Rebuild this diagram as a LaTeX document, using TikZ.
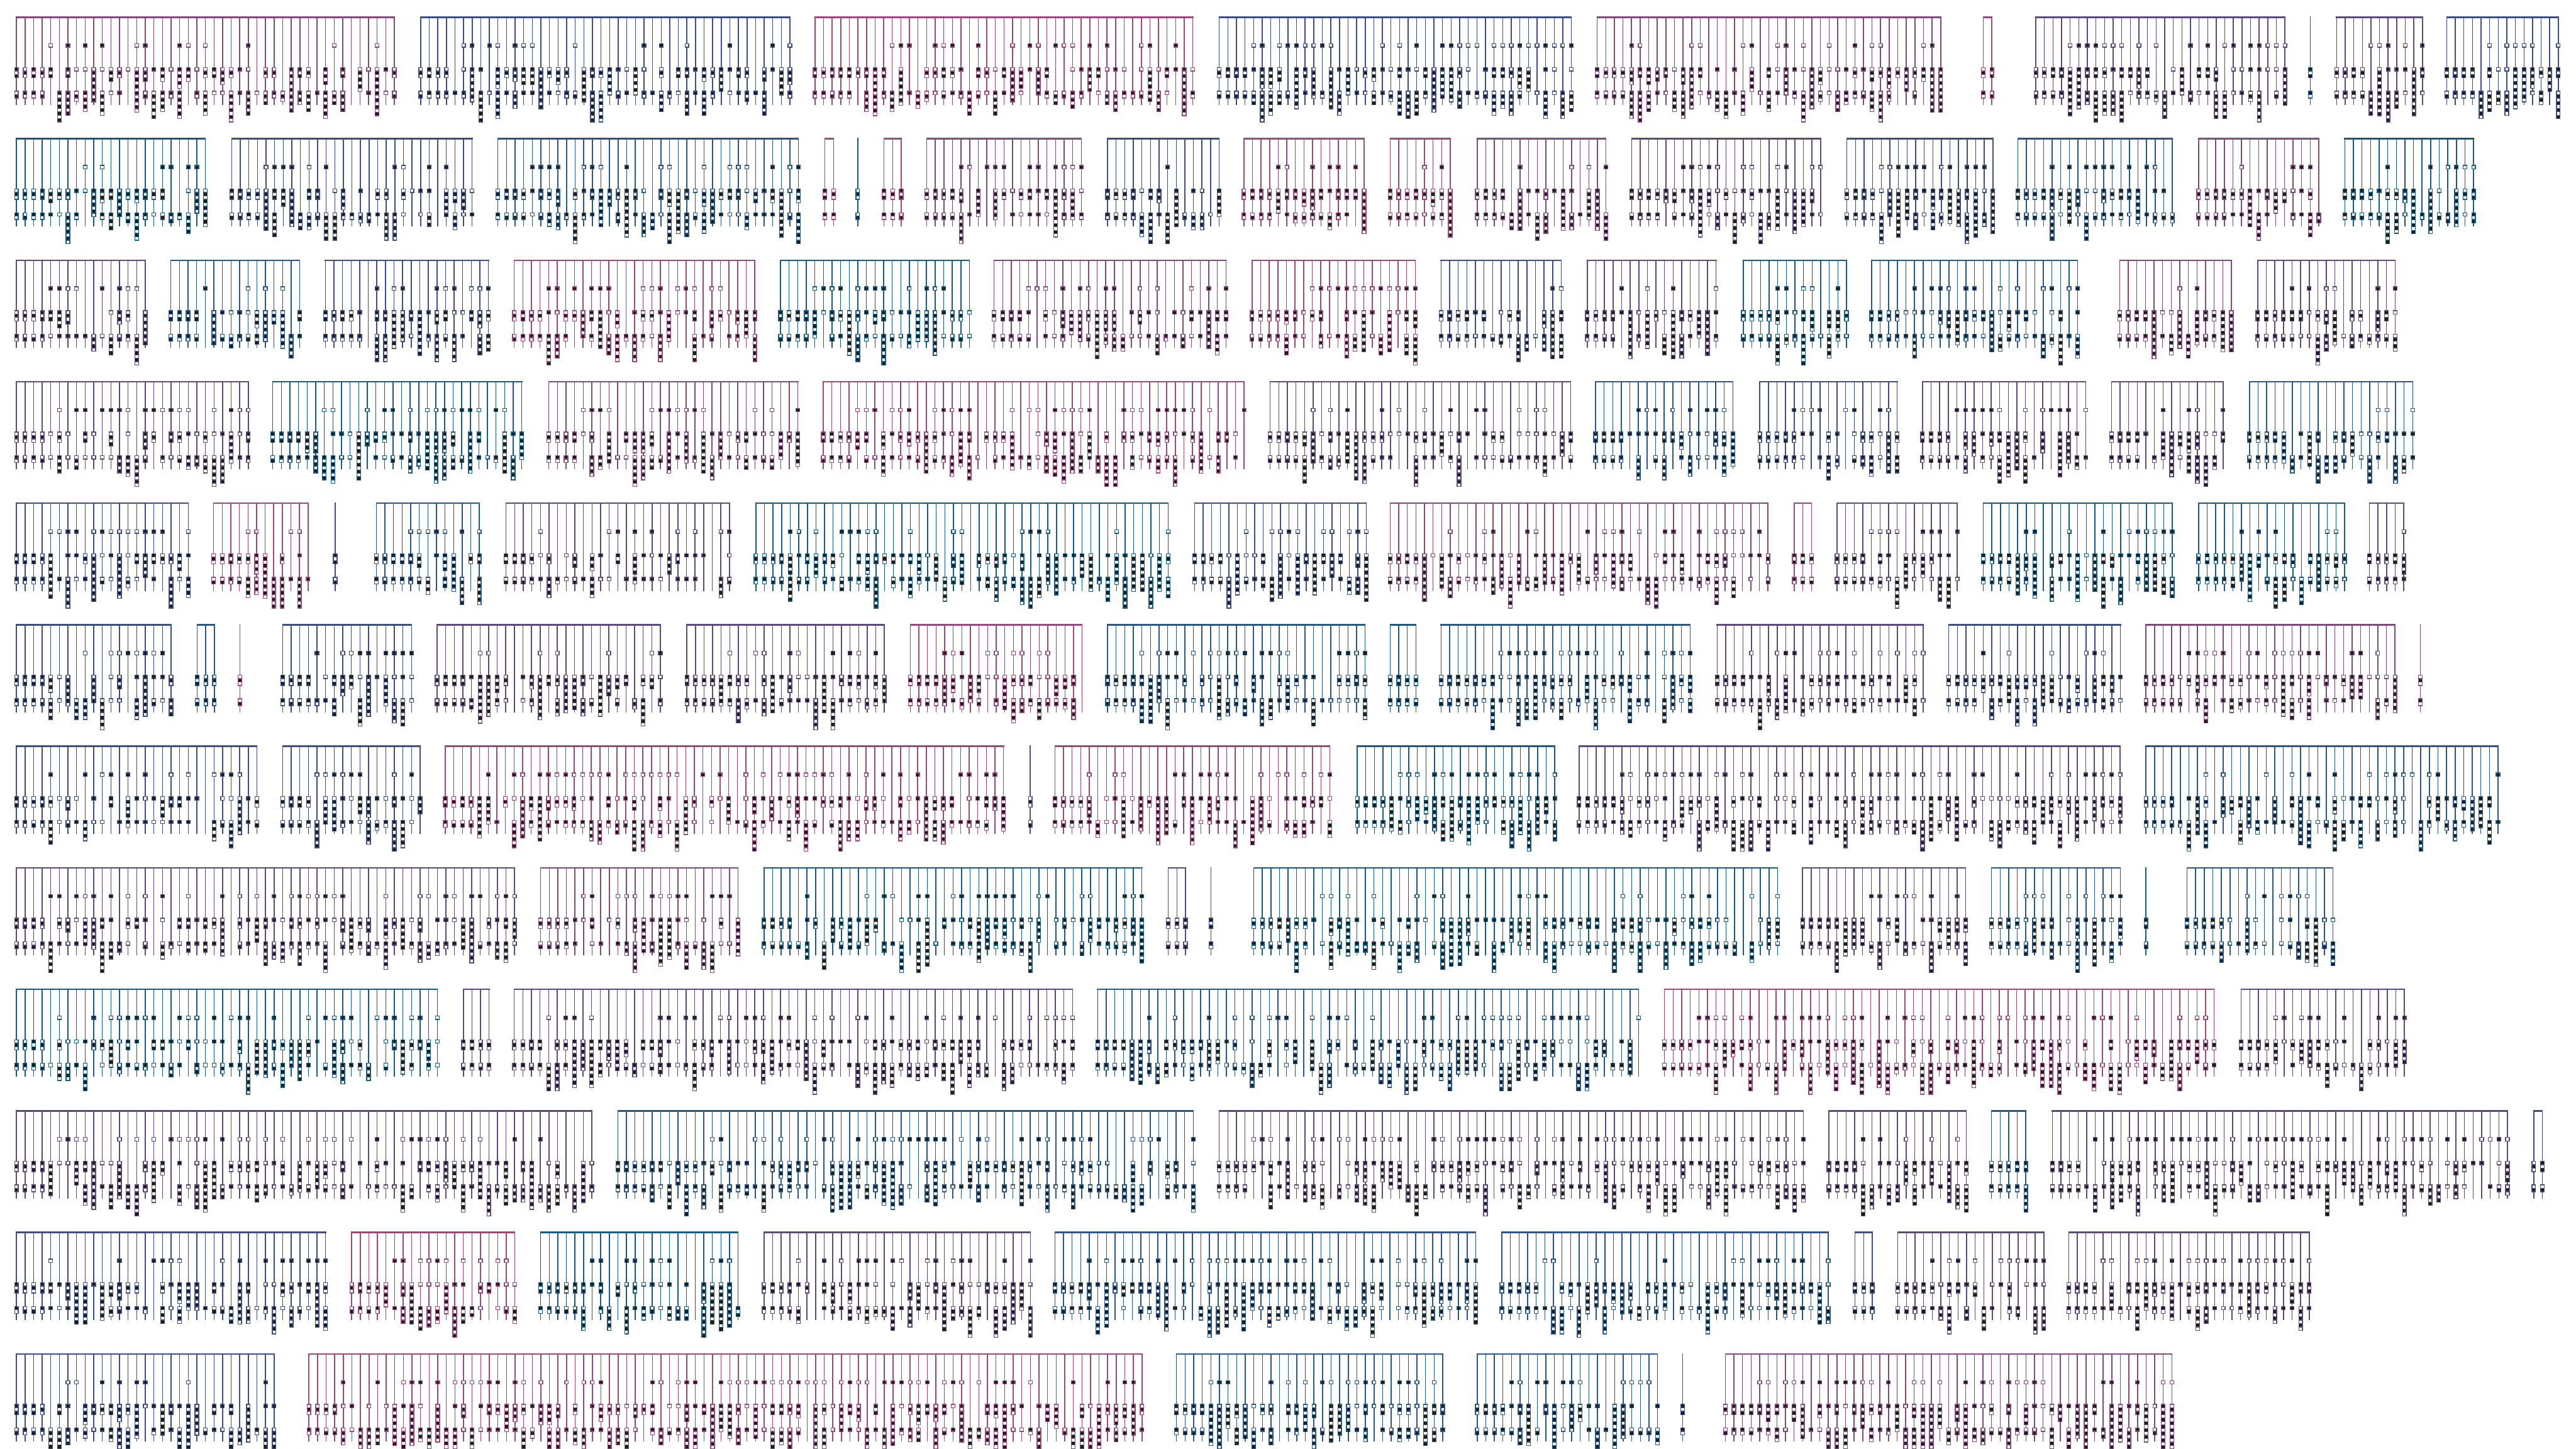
\documentclass[tikz,border=0pt]{standalone}
\definecolor{cA}{HTML}{984A7E}
\definecolor{cB}{HTML}{7E4B7D}
\definecolor{cC}{HTML}{5E4A7A}
\definecolor{cD}{HTML}{3C4F80}
\definecolor{cE}{HTML}{2B5786}
\definecolor{cF}{HTML}{185A82}
\definecolor{sqblack}{HTML}{1C1C1C}
\newcount\rs \newcount\rt
\newcount\cbi \newcount\cbn \newcount\cbk
\newcount\cbX \newcount\cbY \newcount\cbT \newcount\cbL \newcount\cbP
\newcount\cbZero \newcount\cbXo \newcount\cbSeed \newcount\combno
\def\U{0.028453pt}
\def\PP#1#2{\pgfqpoint{\dimexpr\U*(#1)\relax}{\dimexpr\U*(0-(#2))\relax}}
\def\rnd#1{\global\rs=\numexpr\rs*8121+28411\relax
  \rt=\rs \divide\rt by 134456\relax
  \global\rs=\numexpr\rs-\rt*134456\relax
  \rt=\rs \multiply\rt by #1\relax \divide\rt by 134456\relax}
\def\addsq{\pgfpathrectangle{\PP{\cbX-43}{\cbY+80*\cbk}}{\pgfqpoint{\dimexpr\U*86\relax}{\dimexpr\U*(-80)\relax}}}
\def\stackloop#1{%
  \ifnum\cbk<\cbL
    \ifodd\numexpr\cbP+\cbk+#1\relax\else\addsq\fi
    \advance\cbk by 1
    \expandafter\stackloop\expandafter#1%
  \fi}
\def\combpass#1{%
  \global\rs=\cbSeed
  \cbi=0
  \loop
    \cbX=\numexpr\cbXo+200*\cbi\relax
    \rnd{100}%
    \ifnum\cbi>3
      \ifnum\rt<\cbZero
        \rnd{2}%
        \ifnum\rt=#1 \cbY=\numexpr\cbT+620\relax \cbk=0 \cbL=1 \cbP=#1 \addsq\fi
      \fi
    \fi
    \rnd{100}%
    \ifnum\cbi<4 \cbL=3
    \else\ifnum\rt<14 \cbL=0
    \else\ifnum\rt<42 \cbL=1
    \else\ifnum\rt<68 \cbL=3
    \else\ifnum\rt<74 \cbL=4
    \else\ifnum\rt<82 \rnd{2}\cbL=\numexpr5+\rt\relax
    \else \rnd{8}\cbL=\numexpr7+\rt\relax
    \fi\fi\fi\fi\fi\fi
    \rnd{2}\cbP=\rt
    \cbY=\numexpr\cbT+1173\relax \cbk=0 \stackloop#1%
    \ifnum\cbL<7
      \rnd{100}%
      \ifnum\cbi<4 \cbL=2
      \else\ifnum\rt<10 \cbL=0
      \else\ifnum\rt<38 \cbL=1
      \else\ifnum\rt<58 \cbL=2
      \else\ifnum\rt<68 \rnd{2}\cbL=\numexpr3+\rt\relax
      \else \rnd{5}\cbL=\numexpr5+\rt\relax
      \fi\fi\fi\fi\fi
      \rnd{2}\cbP=\rt
      \cbY=\numexpr\cbT+1723\relax \cbk=0 \stackloop#1%
    \fi
    \advance\cbi by 1
  \ifnum\cbi<\cbn\repeat}
\def\combLines{%
  \cbi=0
  \loop
    \cbX=\numexpr\cbXo+200*\cbi\relax
    \pgfpathmoveto{\PP{\cbX}{\cbT}}\pgfpathlineto{\PP{\cbX}{\cbT+2040}}%
    \advance\cbi by 1
  \ifnum\cbi<\cbn\repeat}
\newcommand\drawcomb[4]{% row, x1 (shrunk px), columns, colour
  \global\advance\combno by 1
  \begin{pgfscope}
  \cbT=\numexpr400+2830*(#1-1)\relax
  \cbXo=\numexpr#2*38265/1000\relax
  \cbn=#3\relax
  \pgfsetstrokecolor{#4}%
  \global\rs=\numexpr\combno*977+13\relax
  \rnd{7}\rnd{35}\cbZero=\numexpr35+\rt\relax
  \rnd{3}\cbSeed=\rs
  \pgfsetbuttcap
  \pgfsetlinewidth{0.6pt}%
  \combLines\pgfusepath{stroke}%
  \pgfsetlinewidth{1.05pt}%
  \pgfpathmoveto{\PP{\cbXo-12}{\cbT}}\pgfpathlineto{\PP{\cbXo+200*(\cbn-1)+12}{\cbT}}\pgfusepath{stroke}%
  \pgfsetlinewidth{0.55pt}%
  \pgfsetfillcolor{white}\combpass0\pgfusepath{fill,stroke}%
  \pgfsetfillcolor{sqblack}\combpass1\pgfusepath{fill,stroke}%
  \end{pgfscope}}
\begin{document}
\begin{tikzpicture}
\path[use as bounding box,fill=white] (0,0) rectangle (60cm,-33.75cm);
% row 1
\drawcomb{1}{10}{45}{cB}\drawcomb{1}{256}{44}{cD}\drawcomb{1}{496}{45}{cA}
\drawcomb{1}{742}{42}{cD}\drawcomb{1}{972}{41}{cB}\drawcomb{1}{1207}{2}{cA}
\drawcomb{1}{1239}{30}{cC}\drawcomb{1}{1406}{1}{cE}\drawcomb{1}{1422}{11}{cC}
\drawcomb{1}{1489}{14}{cD}
% row 2
\drawcomb{2}{10}{23}{cF}\drawcomb{2}{141}{29}{cD}\drawcomb{2}{303}{36}{cE}
\drawcomb{2}{502}{2}{cA}\drawcomb{2}{522}{1}{cF}\drawcomb{2}{538}{3}{cA}
\drawcomb{2}{564}{19}{cB}\drawcomb{2}{674}{14}{cD}\drawcomb{2}{757}{15}{cA}
\drawcomb{2}{846}{8}{cA}\drawcomb{2}{899}{16}{cB}\drawcomb{2}{993}{23}{cC}
\drawcomb{2}{1124}{18}{cD}\drawcomb{2}{1228}{19}{cE}\drawcomb{2}{1338}{15}{cB}
\drawcomb{2}{1427}{16}{cF}
% row 3
\drawcomb{3}{10}{16}{cC}\drawcomb{3}{104}{16}{cE}\drawcomb{3}{198}{20}{cD}
\drawcomb{3}{313}{29}{cA}\drawcomb{3}{475}{23}{cF}\drawcomb{3}{605}{28}{cB}
\drawcomb{3}{762}{20}{cA}\drawcomb{3}{877}{15}{cD}\drawcomb{3}{966}{16}{cC}
\drawcomb{3}{1061}{13}{cF}\drawcomb{3}{1139}{25}{cE}\drawcomb{3}{1290}{14}{cB}
\drawcomb{3}{1374}{17}{cC}
% row 4
\drawcomb{4}{10}{28}{cC}\drawcomb{4}{166}{30}{cF}\drawcomb{4}{334}{30}{cB}
\drawcomb{4}{501}{50}{cA}\drawcomb{4}{773}{36}{cC}\drawcomb{4}{971}{17}{cE}
\drawcomb{4}{1071}{17}{cD}\drawcomb{4}{1170}{20}{cC}\drawcomb{4}{1285}{14}{cC}
\drawcomb{4}{1369}{20}{cE}
% row 5
\drawcomb{5}{10}{21}{cD}\drawcomb{5}{130}{12}{cA}\drawcomb{5}{204}{1}{cD}
\drawcomb{5}{229}{13}{cE}\drawcomb{5}{308}{27}{cC}\drawcomb{5}{460}{49}{cF}
\drawcomb{5}{727}{21}{cD}\drawcomb{5}{846}{45}{cB}\drawcomb{5}{1092}{3}{cA}
\drawcomb{5}{1118}{15}{cC}\drawcomb{5}{1207}{23}{cF}\drawcomb{5}{1338}{18}{cF}
\drawcomb{5}{1442}{5}{cC}
% row 6
\drawcomb{6}{10}{19}{cD}\drawcomb{6}{120}{3}{cE}\drawcomb{6}{146}{1}{cA}
\drawcomb{6}{172}{16}{cD}\drawcomb{6}{266}{27}{cC}\drawcomb{6}{418}{24}{cC}
\drawcomb{6}{554}{21}{cA}\drawcomb{6}{674}{31}{cE}\drawcomb{6}{846}{4}{cF}
\drawcomb{6}{877}{30}{cE}\drawcomb{6}{1045}{25}{cC}\drawcomb{6}{1186}{21}{cD}
\drawcomb{6}{1306}{30}{cB}\drawcomb{6}{1473}{1}{cA}
% row 7
\drawcomb{7}{10}{29}{cD}\drawcomb{7}{172}{17}{cD}\drawcomb{7}{271}{66}{cA}
\drawcomb{7}{627}{1}{cC}\drawcomb{7}{642}{33}{cA}\drawcomb{7}{826}{24}{cF}
\drawcomb{7}{961}{64}{cC}\drawcomb{7}{1306}{42}{cE}
% row 8
\drawcomb{8}{10}{59}{cC}\drawcomb{8}{329}{24}{cB}\drawcomb{8}{465}{45}{cF}
\drawcomb{8}{711}{3}{cC}\drawcomb{8}{737}{1}{cD}\drawcomb{8}{763}{62}{cF}
\drawcomb{8}{1097}{20}{cC}\drawcomb{8}{1212}{16}{cE}\drawcomb{8}{1306}{1}{cF}
\drawcomb{8}{1331}{18}{cE}
% row 9
\drawcomb{9}{10}{50}{cF}\drawcomb{9}{282}{4}{cC}\drawcomb{9}{313}{66}{cC}
\drawcomb{9}{668}{64}{cE}\drawcomb{9}{1013}{65}{cA}\drawcomb{9}{1364}{20}{cC}
% row 10
\drawcomb{10}{10}{68}{cC}\drawcomb{10}{376}{68}{cE}\drawcomb{10}{742}{69}{cC}
\drawcomb{10}{1113}{17}{cC}\drawcomb{10}{1212}{5}{cE}\drawcomb{10}{1249}{54}{cC}
\drawcomb{10}{1542}{2}{cD}
% row 11
\drawcomb{11}{10}{37}{cD}\drawcomb{11}{214}{20}{cA}\drawcomb{11}{329}{24}{cF}
\drawcomb{11}{465}{32}{cC}\drawcomb{11}{642}{50}{cE}\drawcomb{11}{914}{39}{cE}
\drawcomb{11}{1129}{3}{cD}\drawcomb{11}{1155}{18}{cC}\drawcomb{11}{1259}{29}{cC}
% row 12
\drawcomb{12}{10}{31}{cD}\drawcomb{12}{188}{98}{cA}\drawcomb{12}{716}{32}{cE}
\drawcomb{12}{899}{22}{cE}\drawcomb{12}{1024}{1}{cD}\drawcomb{12}{1050}{53}{cB}
\end{tikzpicture}
\end{document}
